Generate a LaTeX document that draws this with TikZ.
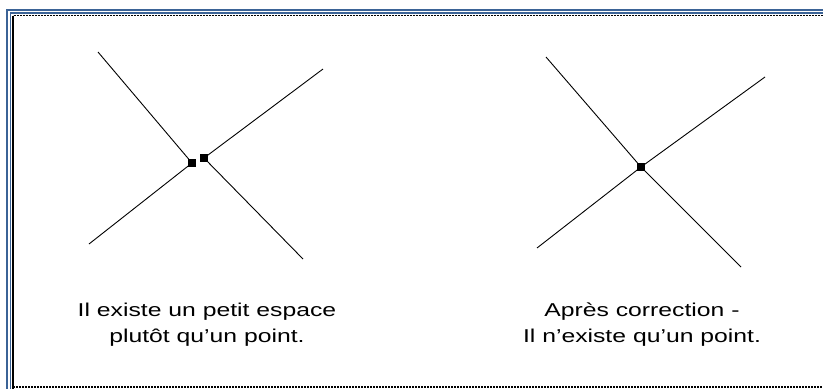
\documentclass[tikz,border=0pt]{standalone}
\usepackage{fontspec}
\setmainfont{Liberation Sans}
\definecolor{frameblue}{RGB}{59,99,150}
\tikzset{
  knot/.style={fill=black, inner sep=0pt, minimum size=8pt},
  seg/.style={line width=0.9pt},
  caption/.style={align=center, xscale=1.33, font=\fontsize{18.6}{26}\selectfont}
}
\begin{document}
\begin{tikzpicture}[x=1pt, y=-1pt]
        \useasboundingbox (0,0) rectangle (823,389);
        % frame
        \draw[frameblue, line width=2pt] (823,10) -- (7,10) -- (7,389);
        \draw[frameblue, line width=1.5pt] (823,13) -- (10.5,13) -- (10.5,389);
        \draw[line width=1.5pt, dash pattern=on 2pt off 1pt] (823,15.5) -- (13,15.5);
        \draw[line width=2pt] (13,15.5) -- (13,389);
        \draw[line width=1.2pt, dash pattern=on 2pt off 1pt] (13,387) -- (823,387);
        % left cross
        \node[knot] (gapa) at (192,163) {};
        \node[knot] (gapb) at (204,158) {};
        \coordinate (lnw) at (98,52);
        \coordinate (lsw) at (89,244);
        \coordinate (lne) at (323,69);
        \coordinate (lse) at (303,259);
        \draw[seg] (lnw) -- (gapa.center);
        \draw[seg] (lsw) -- (gapa.center);
        \draw[seg] (lne) -- (gapb.center);
        \draw[seg] (lse) -- (gapb.center);
        % right cross
        \node[knot] (meet) at (641,167) {};
        \coordinate (rnw) at (546,57);
        \coordinate (rsw) at (537,248);
        \coordinate (rne) at (765,77);
        \coordinate (rse) at (741,267);
        \draw[seg] (rnw) -- (meet.center);
        \draw[seg] (rsw) -- (meet.center);
        \draw[seg] (rne) -- (meet.center);
        \draw[seg] (rse) -- (meet.center);
        \node[caption] (leftcap) at (207,325) {Il existe un petit espace\\plutôt qu'un point.};
        \node[caption] (rightcap) at (642,325) {Après correction -\\Il n’existe qu’un point.};
\end{tikzpicture}
\end{document}
